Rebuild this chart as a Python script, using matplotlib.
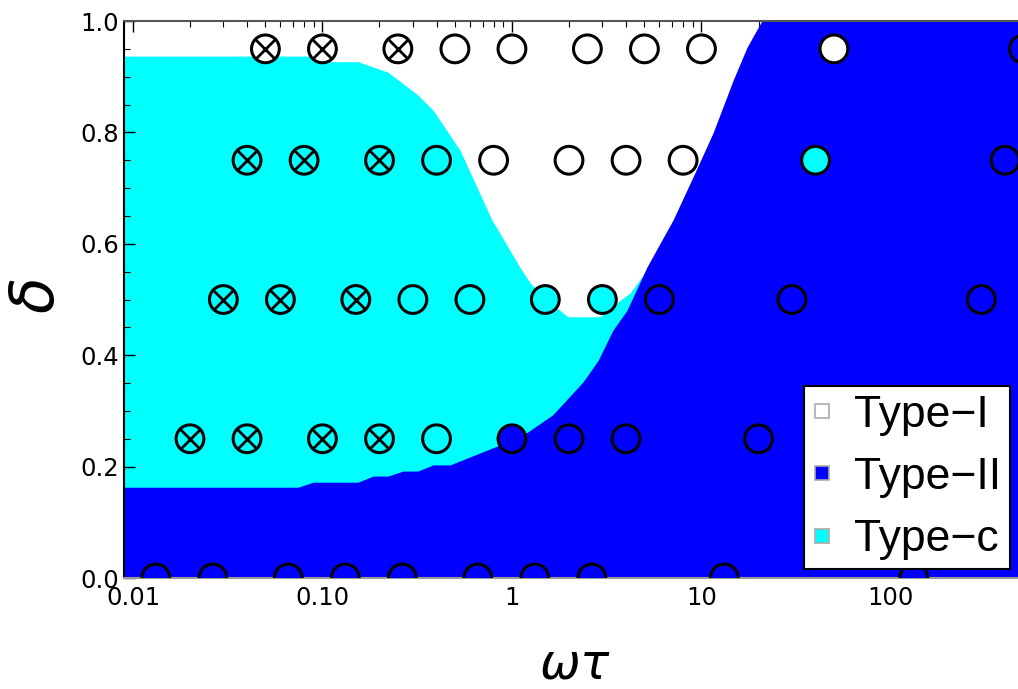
import matplotlib
matplotlib.use('Agg')
import matplotlib.pyplot as plt
from matplotlib.lines import Line2D
from matplotlib.ticker import FixedLocator, NullFormatter

WHITE = '#ffffff'
BLUE = '#0000ff'
CYAN = '#00ffff'

# upper edge of the Type-II (blue) region
blue_wt = [0.009, 0.0743, 0.0892, 0.154, 0.185, 0.222, 0.266, 0.319, 0.383,
           0.471, 0.865, 1.21, 1.64, 2.37, 2.85, 3.41, 4.05, 5.15, 5.89,
           7.08, 9.02, 11.5, 14.7, 17.4, 20.8, 1000]
blue_delta = [0.163, 0.163, 0.172, 0.172, 0.183, 0.183, 0.192, 0.192, 0.203,
              0.203, 0.239, 0.262, 0.293, 0.352, 0.391, 0.445, 0.481, 0.558,
              0.594, 0.643, 0.720, 0.799, 0.894, 0.953, 1.0, 1.0]

# upper edge of the Type-c (cyan) region
cyan_wt = [0.009, 0.1, 0.1, 0.154, 0.222, 0.319, 0.383, 0.532, 0.638, 0.784,
           1.10, 1.245, 1.53, 1.97, 2.91, 3.58, 4.20, 5.03]
cyan_delta = [0.937, 0.937, 0.927, 0.927, 0.908, 0.867, 0.840, 0.768, 0.709,
              0.643, 0.558, 0.530, 0.499, 0.469, 0.469, 0.494, 0.512, 0.548]

# simulation points
pt_wt = [0.05, 0.1, 0.25, 0.5, 1, 2.5, 5, 10, 50, 500,
         0.04, 0.08, 0.2, 0.4, 0.8, 2, 4, 8, 40, 400,
         0.03, 0.06, 0.15, 0.3, 0.6, 1.5, 3, 6, 30, 300,
         0.02, 0.04, 0.1, 0.2, 0.4, 1, 2, 4, 20,
         0.0132, 0.0264, 0.066, 0.132, 0.264, 0.66, 1.32, 2.64, 13.2, 132]
pt_delta = [0.95] * 10 + [0.75] * 10 + [0.5] * 10 + [0.25] * 9 + [0.0] * 10
pt_type = ['I'] * 9 + ['II'] + \
          ['c'] * 4 + ['I'] * 4 + ['c', 'II'] + \
          ['c'] * 7 + ['II'] * 3 + \
          ['c'] * 5 + ['II'] * 4 + \
          ['II'] * 10
pt_cross = [1, 1, 1, 0, 0, 0, 0, 0, 0, 0,
            1, 1, 1, 0, 0, 0, 0, 0, 0, 0,
            1, 1, 1, 0, 0, 0, 0, 0, 0, 0,
            1, 1, 1, 1, 0, 0, 0, 0, 0,
            0, 0, 0, 0, 0, 0, 0, 0, 0, 0]

colors = {'I': WHITE, 'II': BLUE, 'c': CYAN}

fig = plt.figure(figsize=(10.18, 6.89), dpi=100)
ax = fig.add_axes([0.1218, 0.1611, 0.8782, 0.8084])

ax.fill_between(cyan_wt, 0, cyan_delta, color=CYAN, lw=0, zorder=1)
ax.fill_between(blue_wt, 0, blue_delta, color=BLUE, lw=0, zorder=2)

ax.scatter(pt_wt, pt_delta, s=400, c=[colors[t] for t in pt_type],
           edgecolors='black', linewidths=2.2, zorder=5)
cx = [w for w, c in zip(pt_wt, pt_cross) if c]
cy = [d for d, c in zip(pt_delta, pt_cross) if c]
ax.scatter(cx, cy, s=196, marker='x', c='black', linewidths=2.0, zorder=6)

ax.set_xscale('log')
ax.set_xlim(0.00897, 468)
ax.set_ylim(0, 1)

ax.xaxis.set_major_locator(FixedLocator([0.01, 0.1, 1, 10, 100]))
ax.set_xticklabels(['0.01', '0.10', '1', '10', '100'])
minors = [m * 10.0 ** e for e in range(-3, 3) for m in range(2, 10)]
ax.xaxis.set_minor_locator(FixedLocator(minors))
ax.xaxis.set_minor_formatter(NullFormatter())
ax.set_yticks([0, 0.2, 0.4, 0.6, 0.8, 1.0])
ax.set_yticklabels(['0.0', '0.2', '0.4', '0.6', '0.8', '1.0'])
ax.set_yticks([0.05 * i for i in range(21)], minor=True)

ax.tick_params(which='both', direction='in', top=True, right=False,
               labelsize=17.5, colors='black')
ax.tick_params(axis='x', which='both', pad=6)
ax.tick_params(which='major', length=8, width=1.0)
ax.tick_params(which='minor', length=4, width=0.8)
for lab in ax.get_xticklabels() + ax.get_yticklabels():
    lab.set_family('DejaVu Sans')

ax.spines['right'].set_visible(False)
ax.spines['left'].set_color('black')
ax.spines['left'].set_linewidth(1.5)
ax.spines['top'].set_color('#555555')
ax.spines['top'].set_linewidth(1.5)
ax.spines['bottom'].set_color('#999999')
ax.spines['bottom'].set_linewidth(1.5)

ax.set_xlabel(r'$\omega\tau$', fontsize=35)
ax.xaxis.set_label_coords(0.505, -0.113)
ax.set_ylabel(r'$\delta$', fontsize=43)
ax.yaxis.set_label_coords(-0.064, 0.506)

handles = [Line2D([], [], ls='none', marker='s', markersize=10,
                  markerfacecolor=c, markeredgecolor='#aaaaaa',
                  markeredgewidth=1.2)
           for c in (WHITE, BLUE, CYAN)]
leg = ax.legend(handles, ['Type\u2212I', 'Type\u2212II', 'Type\u2212c'],
                loc='lower right', bbox_to_anchor=(0.991, 0.016),
                borderaxespad=0, fancybox=False, framealpha=1,
                edgecolor='black', handlelength=0.4, handletextpad=0.52,
                borderpad=0.2, labelspacing=0.48,
                prop={'family': 'Liberation Sans', 'size': 32})
leg.get_frame().set_linewidth(1.5)
leg.set_zorder(10)

fig.savefig('out.png', dpi=100)
